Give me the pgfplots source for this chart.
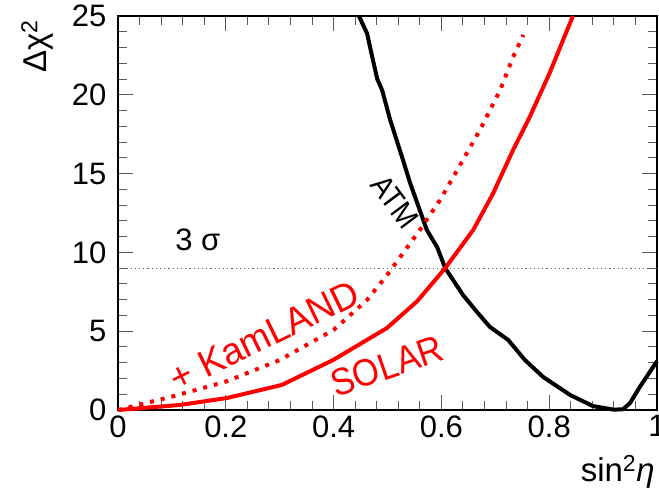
\documentclass[border=0pt]{standalone}
\usepackage{fontspec}
\setmainfont{Liberation Sans}
\usepackage{pgfplots}
\pgfplotsset{compat=1.18}
\newcommand\lblfont{\fontsize{31}{31}\selectfont}
\newcommand\tagfont{\fontsize{38}{38}\selectfont}
\newcommand\ttlfont{\fontsize{33}{33}\selectfont}

\begin{document}
\begin{tikzpicture}
\useasboundingbox (0,0) rectangle (659pt,496pt);
\begin{axis}[
  at={(118pt,86pt)}, anchor=south west,
  scale only axis, width=539pt, height=394pt,
  xmin=0, xmax=1, ymin=0, ymax=25,
  xtick={0,0.2,0.4,0.6,0.8,1}, minor x tick num=4,
  ytick={0,5,10,15,20,25}, minor y tick num=4,
  xticklabels={0,0.2,0.4,0.6,0.8,1},
  yticklabels={0,5,10,15,20,25},
  tick pos=both, tick align=inside,
  major tick length=15pt, minor tick length=9pt,
  every tick/.style={black!65, line width=1pt},
  axis line style={black, line width=1.3pt},
  tick label style={font=\lblfont},
  xticklabel style={yshift=-2pt},
  yticklabel style={xshift=-8pt},
  clip=false,
]
% 3 sigma
\addplot[black!60, line width=1pt, dash pattern=on 1.2pt off 3pt] coordinates {(0,9) (1,9)};
% atmospheric
\addplot[black, line width=4pt, line join=round] coordinates {
  (0.447,25.0) (0.462,23.9) (0.473,22.2) (0.481,21.0) (0.490,20.30) (0.505,18.40)
  (0.527,16.05) (0.542,14.40) (0.573,11.42) (0.592,10.34) (0.607,9.01)
  (0.640,7.30) (0.666,6.22) (0.690,5.27) (0.724,4.44) (0.755,3.17)
  (0.789,2.09) (0.839,0.95) (0.881,0.25) (0.920,0.02) (0.937,0.05)
  (0.950,0.44) (0.968,1.46) (1.0,3.1)};
% solar
\addplot[red, line width=4pt, line join=round] coordinates {
  (0,0) (0.115,0.32) (0.202,0.76) (0.304,1.59) (0.399,3.17) (0.499,5.20)
  (0.555,6.9) (0.607,9.0) (0.659,11.42) (0.696,13.75) (0.733,16.5)
  (0.764,18.6) (0.801,21.4) (0.844,25.0)};
% solar + kamland
\addplot[red, line width=4pt, line join=round, dash pattern=on 4pt off 7pt] coordinates {
  (0,0) (0.1,0.85) (0.2,1.8) (0.3,3.17) (0.4,5.08) (0.462,6.98)
  (0.5,8.6) (0.560,11.42) (0.597,13.3) (0.629,15.2) (0.672,17.8)
  (0.709,20.3) (0.733,22.4) (0.752,23.8)};

\node[font=\lblfont] at (axis cs:0.148,10.8) {3 σ};
\node[font=\lblfont, rotate=-53, xscale=0.9] at (axis cs:0.514,13.2) {ATM};
\node[font=\tagfont, red, rotate=26, xscale=0.97] at (axis cs:0.272,4.7) {+ KamLAND};
\node[font=\tagfont, red, rotate=19, xscale=0.9] at (axis cs:0.499,2.79) {SOLAR};

\node[font=\ttlfont, rotate=90, anchor=east, inner sep=0pt] at (rel axis cs:-0.150,0.99) {Δχ\textsuperscript{2}};
\node[font=\ttlfont, anchor=east, inner sep=0pt] at (rel axis cs:0.996,-0.157) {sin\textsuperscript{2}\textit{η}};
\end{axis}
\end{tikzpicture}
\end{document}
